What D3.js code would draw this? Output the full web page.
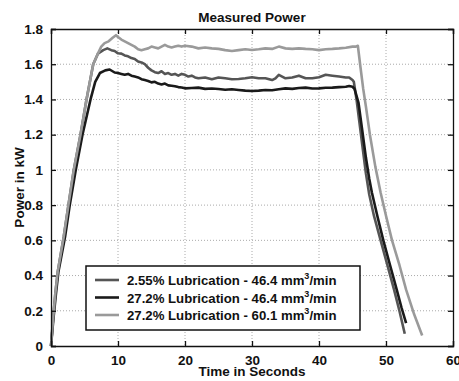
<!DOCTYPE html>
<html>
<head>
<meta charset="utf-8">
<script src="https://cdn.jsdelivr.net/npm/d3@7"></script>
<style>
  body { margin: 0; background: #fff; }
  text { font-family: "Liberation Sans", Arial, sans-serif; font-weight: bold; fill: #111; }
</style>
</head>
<body>
<div id="plot"></div>
<script>
// chart values, [time s, power kW]
const xTicks = [0, 10, 20, 30, 40, 50, 60];
const yTicks = [0, 0.2, 0.4, 0.6, 0.8, 1, 1.2, 1.4, 1.6, 1.8];

const lowLub464 = [
  [0,0],[0.3,0.15],[0.65,0.3],[1.0,0.42],[1.9,0.62],[2.6,0.8],[3.4,1.0],[4.4,1.2],[5.3,1.4],
  [6.3,1.6],[7.0,1.66],[7.8,1.68],[8.4,1.69],[9.0,1.68],[9.5,1.675],[10,1.662],
  [10.5,1.66],[11,1.65],[11.5,1.645],[12,1.635],[12.5,1.63],[13,1.615],[13.5,1.61],[14,1.6],
  [14.5,1.58],[15,1.565],[15.5,1.555],[16,1.55],[16.5,1.56],[17,1.545],[17.5,1.55],[18,1.54],
  [18.5,1.545],[19,1.535],[19.5,1.545],[20,1.54],[20.5,1.53],[21,1.535],[21.5,1.525],[22,1.52],
  [23,1.525],[24,1.515],[25,1.525],[26,1.52],[27,1.515],[28,1.516],[29,1.52],[30,1.526],[31,1.52],
  [32,1.52],[33,1.51],[33.5,1.52],[34,1.54],[34.5,1.53],[35,1.52],[36,1.525],[37,1.535],[38,1.52],
  [39,1.52],[40,1.526],[41,1.54],[42,1.535],[43,1.53],[44,1.525],[44.5,1.525],[45,1.51],[45.2,1.5],
  [45.6,1.4],[46.0,1.28],[46.5,1.13],[47.0,0.98],[47.5,0.86],[48.2,0.74],[49.2,0.6],[50.2,0.46],
  [51.2,0.32],[52.0,0.2],[52.8,0.07]
];

const highLub464 = [
  [0,0],[0.35,0.15],[0.75,0.3],[1.1,0.42],[2.1,0.62],[2.8,0.8],[3.7,1.0],[4.7,1.2],[5.9,1.4],
  [6.6,1.5],[7.3,1.55],[8.1,1.565],[8.75,1.57],[9.5,1.553],[10,1.55],
  [10.5,1.545],[11,1.54],[11.5,1.545],[12,1.535],[12.5,1.53],[13,1.525],[13.5,1.515],[14,1.51],
  [14.5,1.505],[15,1.497],[15.5,1.5],[16,1.49],[16.5,1.485],[17,1.49],[17.5,1.48],[18,1.478],
  [18.5,1.475],[19,1.47],[19.5,1.468],[20,1.463],[21,1.465],[22,1.467],[23,1.46],[24,1.462],
  [25,1.459],[26,1.455],[27,1.458],[28,1.454],[29,1.45],[30,1.448],[31,1.45],[32,1.454],[33,1.452],
  [34,1.458],[35,1.463],[36,1.46],[37,1.465],[38,1.467],[39,1.462],[40,1.463],[41,1.466],[42,1.467],
  [43,1.47],[44,1.472],[44.5,1.476],[45,1.472],[45.3,1.46],[45.9,1.38],[46.4,1.24],[47.0,1.07],
  [47.5,0.95],[47.9,0.87],[48.7,0.74],[49.6,0.6],[50.6,0.46],[51.6,0.32],[52.3,0.22],[53.0,0.13]
];

const highLub601 = [
  [0,0],[0.3,0.15],[0.65,0.3],[1.0,0.42],[1.9,0.62],[2.6,0.8],[3.4,1.0],[4.4,1.2],[5.3,1.4],
  [6.3,1.6],[7.0,1.66],[7.5,1.7],[8.0,1.72],[8.6,1.73],[9.2,1.75],[9.7,1.765],
  [10,1.755],[10.5,1.74],[11,1.73],[11.5,1.72],[12,1.71],[12.5,1.7],[13,1.685],[13.5,1.68],
  [14,1.685],[14.5,1.69],[15,1.7],[15.5,1.695],[16,1.69],[16.5,1.7],[17,1.71],[17.5,1.7],[18,1.695],
  [18.5,1.7],[19,1.705],[19.5,1.7],[20,1.705],[21,1.7],[22,1.69],[23,1.695],[24,1.69],[25,1.687],
  [26,1.68],[27,1.675],[28,1.68],[29,1.685],[30,1.681],[31,1.685],[32,1.69],[33,1.687],[34,1.7],
  [35,1.69],[36,1.687],[37,1.69],[38,1.687],[39,1.685],[40,1.68],[41,1.685],[42,1.687],[43,1.69],
  [44,1.694],[45,1.7],[45.5,1.7],[45.8,1.705],[46.2,1.58],[46.6,1.46],[47.0,1.36],[47.6,1.2],
  [48.4,1.02],[49.2,0.87],[50.0,0.74],[50.9,0.6],[52.0,0.46],[53.0,0.32],[54.2,0.18],[55.4,0.06]
];

const seriesNames = ["2.55% Lubrication - 46.4 mm", "27.2% Lubrication - 46.4 mm", "27.2% Lubrication - 60.1 mm"];
const seriesColors = ["#555555", "#1a1a1a", "#9a9a9a"];
const seriesData = [lowLub464, highLub464, highLub601];

const w = 459, h = 381;
const margin = {top: 29, right: 6, bottom: 35, left: 51};
const innerWidth = w - margin.left - margin.right;
const innerHeight = h - margin.top - margin.bottom;

const svg = d3.select("#plot")
  .append("svg")
    .attr("width", w)
    .attr("height", h);

svg.append("rect")
    .attr("width", w)
    .attr("height", h)
    .attr("fill", "#fff");

const xScale = d3.scaleLinear().domain([0, 60]).range([0, innerWidth]);
const yScale = d3.scaleLinear().domain([0, 1.8]).range([innerHeight, 0]);

const g = svg.append("g")
    .attr("transform", `translate(${margin.left}, ${margin.top})`);

// dotted grid
g.append("g").selectAll("line")
  .data(xTicks.slice(1, -1))
  .enter().append("line")
    .attr("x1", d => xScale(d)).attr("x2", d => xScale(d))
    .attr("y1", 0).attr("y2", innerHeight)
    .attr("stroke", "#aaa").attr("stroke-dasharray", "1,2");

g.append("g").selectAll("line")
  .data(yTicks.slice(1, -1))
  .enter().append("line")
    .attr("y1", d => yScale(d)).attr("y2", d => yScale(d))
    .attr("x1", 0).attr("x2", innerWidth)
    .attr("stroke", "#aaa").attr("stroke-dasharray", "1,2");

// lines
const line = d3.line()
    .x(d => xScale(d[0]))
    .y(d => yScale(d[1]));

seriesData.forEach((s, i) => {
  g.append("path")
    .datum(s)
    .attr("fill", "none")
    .attr("stroke", seriesColors[i])
    .attr("stroke-width", 2.6)
    .attr("stroke-linejoin", "round")
    .attr("d", line);
});

// axes, ticks point inward like matlab
const fmt = d => d3.format("")(+d.toFixed(1));

const xAxis = g.append("g")
    .attr("transform", `translate(0, ${innerHeight})`)
    .call(d3.axisBottom(xScale).tickValues(xTicks).tickSize(-5).tickPadding(9).tickFormat(fmt));
const xTop = g.append("g")
    .call(d3.axisTop(xScale).tickValues(xTicks).tickSize(-5).tickFormat(""));
const yAxis = g.append("g")
    .call(d3.axisLeft(yScale).tickValues(yTicks).tickSize(-5).tickPadding(8).tickFormat(fmt));
const yRight = g.append("g")
    .attr("transform", `translate(${innerWidth}, 0)`)
    .call(d3.axisRight(yScale).tickValues(yTicks).tickSize(-5).tickFormat(""));

[xAxis, xTop, yAxis, yRight].forEach(a => {
  a.selectAll("path").attr("stroke", "#111").attr("stroke-width", 1.3);
  a.selectAll("line").attr("stroke", "#111").attr("stroke-width", 1.3);
  a.selectAll("text")
    .attr("font-family", "Liberation Sans, Arial, sans-serif")
    .attr("font-weight", "bold")
    .attr("font-size", 13.5)
    .attr("fill", "#111");
});

// title and labels
svg.append("text")
    .attr("x", margin.left + innerWidth / 2)
    .attr("y", 22)
    .attr("text-anchor", "middle")
    .attr("font-size", 13.5)
    .text("Measured Power");

svg.append("text")
    .attr("x", margin.left + innerWidth / 2)
    .attr("y", 376)
    .attr("text-anchor", "middle")
    .attr("font-size", 13.5)
    .text("Time in Seconds");

svg.append("text")
    .attr("transform", `translate(24, ${margin.top + innerHeight / 2}) rotate(-90)`)
    .attr("text-anchor", "middle")
    .attr("font-size", 13.5)
    .text("Power in kW");

// legend
const legend = svg.append("g").attr("transform", "translate(86, 266)");
legend.append("rect")
    .attr("width", 274).attr("height", 64)
    .attr("fill", "#fff").attr("stroke", "#111").attr("stroke-width", 1.5);

seriesNames.forEach((name, i) => {
  const y = 14 + i * 17.5;
  legend.append("line")
    .attr("x1", 9).attr("x2", 33)
    .attr("y1", y).attr("y2", y)
    .attr("stroke", seriesColors[i]).attr("stroke-width", 2.6);
  const t = legend.append("text")
    .attr("x", 41).attr("y", y + 5)
    .attr("font-size", 13.2);
  t.append("tspan").text(name);
  t.append("tspan").attr("dy", -6).attr("font-size", 9).text("3");
  t.append("tspan").attr("dy", 6).text("/min");
});
</script>
</body>
</html>
